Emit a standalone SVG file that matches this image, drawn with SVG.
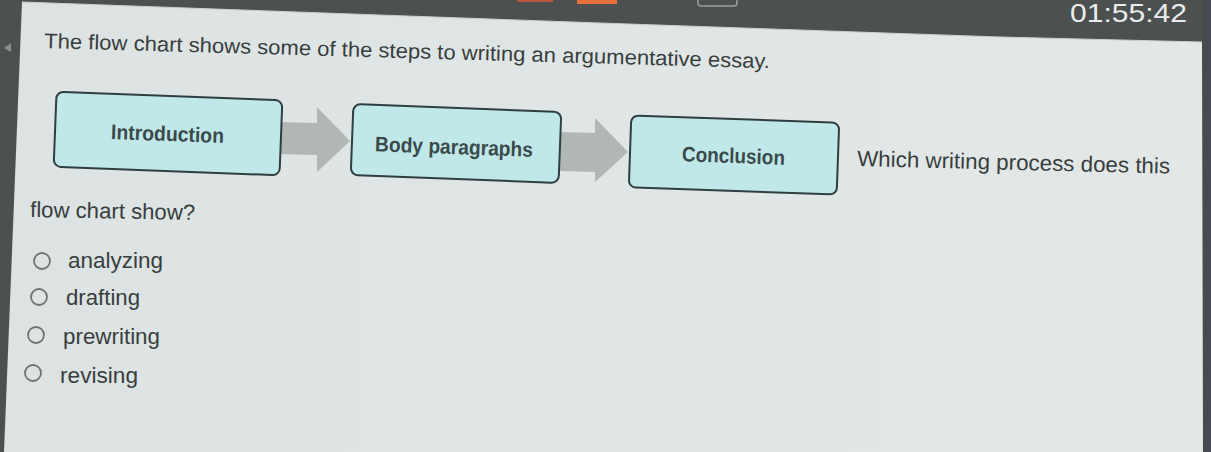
<svg xmlns="http://www.w3.org/2000/svg" width="1211" height="452" viewBox="0 0 1211 452">
  <defs>
    <linearGradient id="page" x1="0" y1="0" x2="1" y2="0">
      <stop offset="0" stop-color="#dce3e2"/>
      <stop offset="0.5" stop-color="#e0e6e5"/>
      <stop offset="1" stop-color="#e3e8e7"/>
    </linearGradient>
    <style>
      .txt { font-family: "Liberation Sans", Arial, sans-serif; fill: #383e3e; }
      .box { fill: #c1e8e8; stroke: #2f3e40; stroke-width: 2; }
      .lbl { font-family: "Liberation Sans", Arial, sans-serif; font-weight: bold; fill: #3a4a4c; font-size: 21px; }
      .arrow { fill: #b1b7b5; }
      .radio { fill: none; stroke: #6e7373; stroke-width: 1.8; }
    </style>
  </defs>

  <!-- screen frame -->
  <rect x="0" y="0" width="1211" height="452" fill="#4c514f"/>
  <rect x="1202" y="0" width="9" height="452" fill="#454b50"/>
  <polygon points="22,2 600,23 1000,37 1202,42 1203,452 4,452" fill="url(#page)"/>
  <polyline points="22,2 600,23 1000,37 1202,42" fill="none" stroke="#c9cfce" stroke-width="1"/>
  <polygon points="4,48 11,43 11,52" fill="#8a908e"/>

  <!-- top bar items -->
  <rect x="517" y="0" width="36" height="2" fill="#b8553a"/>
  <rect x="577" y="0" width="40" height="4" fill="#e5703a"/>
  <rect x="698" y="-6" width="39" height="12" rx="3" fill="none" stroke="#9aa09e" stroke-width="1.5"/>
  <text x="1070" y="22" class="txt" style="fill:#e9ecec" font-size="25" textLength="117" lengthAdjust="spacingAndGlyphs">01:55:42</text>

  <!-- question text -->
  <text x="44" y="48" class="txt" font-size="21" textLength="726" lengthAdjust="spacingAndGlyphs" transform="rotate(1.6 44 48)">The flow chart shows some of the steps to writing an argumentative essay.</text>

  <!-- connectors -->
  <g id="connectors">
    <polygon class="arrow" points="278,122 317,123 317,107 350,141 317,172 317,155 278,154"/>
    <polygon class="arrow" points="558,132 595,133 595,118 628,152 595,182 595,172 558,171"/>
  </g>

  <g id="node-introduction">
    <rect class="box" x="55" y="96" width="226" height="75" rx="7" transform="rotate(2.2 168 134)"/>
    <text class="lbl" x="167.5" y="141" text-anchor="middle" textLength="113" lengthAdjust="spacingAndGlyphs" transform="rotate(2 167 135)">Introduction</text>
  </g>

  <g id="node-body">
    <rect class="box" x="352" y="108" width="208" height="71" rx="7" transform="rotate(2.2 456 143.5)"/>
    <text class="lbl" x="454" y="154" text-anchor="middle" textLength="158" lengthAdjust="spacingAndGlyphs" transform="rotate(2 454 147)">Body paragraphs</text>
  </g>

  <g id="node-conclusion">
    <rect class="box" x="630" y="119" width="208" height="72" rx="7" transform="rotate(2 734 155)"/>
    <text class="lbl" x="733.5" y="163" text-anchor="middle" textLength="103" lengthAdjust="spacingAndGlyphs" transform="rotate(2 733 156)">Conclusion</text>
  </g>

  <text x="857" y="166" class="txt" font-size="22" textLength="313" lengthAdjust="spacingAndGlyphs" transform="rotate(1.4 857 166)">Which writing process does this</text>
  <text x="30" y="217" class="txt" font-size="22" textLength="165" lengthAdjust="spacingAndGlyphs" transform="rotate(1 30 217)">flow chart show?</text>

  <!-- options -->
  <g id="options">
    <circle class="radio" cx="42" cy="261" r="8"/>
    <text x="68" y="268" class="txt" font-size="22" textLength="95" lengthAdjust="spacingAndGlyphs">analyzing</text>
    <circle class="radio" cx="39" cy="297" r="8"/>
    <text x="66" y="305" class="txt" font-size="22" textLength="74" lengthAdjust="spacingAndGlyphs">drafting</text>
    <circle class="radio" cx="36" cy="335" r="8"/>
    <text x="63" y="344" class="txt" font-size="22" textLength="97" lengthAdjust="spacingAndGlyphs">prewriting</text>
    <circle class="radio" cx="33" cy="373" r="8"/>
    <text x="60" y="383" class="txt" font-size="22" textLength="78" lengthAdjust="spacingAndGlyphs">revising</text>
  </g>
</svg>
